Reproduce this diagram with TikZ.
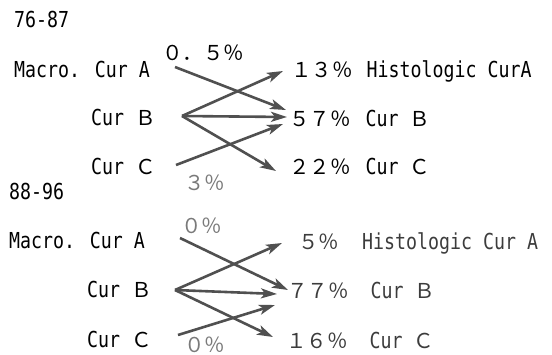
\documentclass[tikz,border=0pt]{standalone}
\usepackage{fontspec}
\usetikzlibrary{arrows.meta}
\newfontfamily\monofam[FakeStretch=0.83]{DejaVu Sans Mono}
\newfontfamily\cjkfam{Noto Sans CJK JP}
\newcommand\fw[1]{{\cjkfam\fontsize{20.5}{24}\selectfont #1}}
\definecolor{arrgray}{HTML}{505050}
\definecolor{pctgray}{HTML}{7A7A7A}
\definecolor{dkgray}{HTML}{3C3C3C}
\begin{document}
\begin{tikzpicture}[x=1pt,y=-1pt,
  lbl/.style={anchor=base west, inner sep=0pt, font=\monofam\fontsize{22}{26}\selectfont},
  pct/.style={anchor=base west, inner sep=0pt, font=\cjkfam\fontsize{20.5}{24}\selectfont, text=pctgray},
  arr/.style={draw=arrgray, line width=2.6pt, -{Stealth[length=16pt,width=10pt,inset=4pt]}}]
\useasboundingbox (0,0) rectangle (552,354);
% top group
\node[lbl] (t76) at (14,27) {76-87};
\node[lbl] (ta) at (14,77) {Macro. Cur A};
\node[lbl] (tb) at (91,125) {Cur \fw{Ｂ}};
\node[lbl] (tc) at (91,174) {Cur \fw{Ｃ}};
\node[pct,text=black] (tp1) at (162,60) {０．５％};
\node[pct] (tp2) at (184,190) {３％};
\node[lbl] (tr1) at (291,77) {\fw{１３％}\hspace{14pt}Histologic CurA};
\node[lbl] (tr2) at (289,126) {\fw{５７％}\hspace{15pt}Cur \fw{Ｂ}};
\node[lbl] (tr3) at (289,174) {\fw{２２％}\hspace{15pt}Cur \fw{Ｃ}};
\coordinate (tas) at (175,67);
\coordinate (tbs) at (182,116);
\coordinate (tcs) at (176,165);
\coordinate (tae) at (283,71);
\coordinate (tabe) at (286,110);
\coordinate (tbbe) at (287,117);
\coordinate (tcbe) at (283,124);
\coordinate (tce) at (276,171);
\draw[arr] (tas) -- (tabe);
\draw[arr] (tbs) -- (tae);
\draw[arr] (tbs) -- (tbbe);
\draw[arr] (tcs) -- (tcbe);
\draw[arr] (tbs) -- (tce);
% bottom group
\node[lbl] (b88) at (9,199) {88-96};
\node[lbl] (ba) at (9,248) {Macro. Cur A};
\node[lbl] (bb) at (87,297) {Cur \fw{Ｂ}};
\node[lbl] (bc) at (87,347) {Cur \fw{Ｃ}};
\node[pct] (bp1) at (181,233) {０％};
\node[pct] (bp2) at (184,352) {０％};
\node[lbl,text=dkgray] (br1) at (298,249) {\fw{５％}\hspace{23pt}Histologic Cur A};
\node[lbl,text=dkgray] (br2) at (287,298) {\fw{７７％}\hspace{22pt}Cur \fw{Ｂ}};
\node[lbl,text=dkgray] (br3) at (286,348) {\fw{１６％}\hspace{22pt}Cur \fw{Ｃ}};
\coordinate (bas) at (180,238);
\coordinate (bbs) at (175,290);
\coordinate (bcs) at (178,335);
\coordinate (bae) at (282,243);
\coordinate (babe) at (288,290);
\coordinate (bbbe) at (277,294);
\coordinate (bcbe) at (275,305);
\coordinate (bce) at (273,337);
\draw[arr] (bas) -- (babe);
\draw[arr] (bbs) -- (bae);
\draw[arr] (bbs) -- (bbbe);
\draw[arr] (bcs) -- (bcbe);
\draw[arr] (bbs) -- (bce);
\end{tikzpicture}
\end{document}
